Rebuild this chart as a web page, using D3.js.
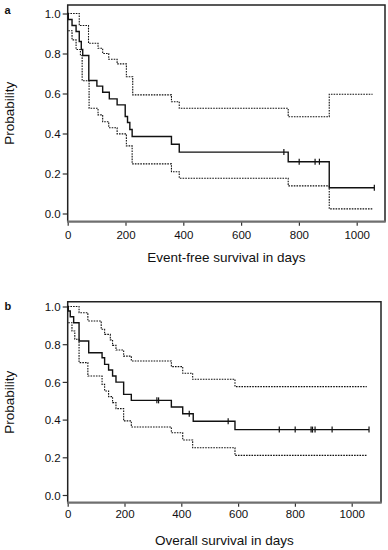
<!DOCTYPE html>
<html>
<head>
<meta charset="utf-8">
<script src="https://cdn.jsdelivr.net/npm/d3@7"></script>
<style>
    body { margin: 0; background: #fff; }
    svg { display: block; }
</style>
</head>
<body>
<svg id="chart" width="388" height="550"></svg>
<script>
    // tick values shared by both panels
    var xTicks = [0, 200, 400, 600, 800, 1000];
    var yTicks = [0, 0.2, 0.4, 0.6, 0.8, 1.0];

    // panel a - event-free survival (time in days, survival probability)
    var efsEstimate = [[0, 1], [2, 0.97], [15, 0.94], [29, 0.91], [40, 0.86], [47, 0.82], [52, 0.79],
        [73, 0.665], [101, 0.637], [121, 0.606], [144, 0.573], [171, 0.543], [199, 0.485],
        [207, 0.455], [215, 0.42], [223, 0.385], [359, 0.346], [386, 0.307], [763, 0.259],
        [905, 0.129], [1061, 0.129]];
    var efsUpper = [[0, 1.0], [40, 0.94], [72, 0.851], [105, 0.826], [121, 0.80], [142, 0.771],
        [171, 0.748], [203, 0.684], [225, 0.593], [359, 0.559], [386, 0.526], [763, 0.484],
        [905, 0.596], [1055, 0.596]];
    var efsLower = [[2, 0.914], [15, 0.868], [29, 0.82], [44, 0.79], [50, 0.664], [74, 0.526],
        [105, 0.493], [121, 0.459], [142, 0.429], [171, 0.398], [203, 0.338], [223, 0.248],
        [359, 0.209], [386, 0.176], [763, 0.138], [905, 0.023], [1055, 0.023]];
    var efsCensored = [748, 801, 856, 871, 1061];

    // panel b - overall survival
    var osEstimate = [[0, 1], [2, 0.976], [9, 0.946], [21, 0.914], [40, 0.817], [74, 0.755],
        [121, 0.728], [130, 0.693], [144, 0.663], [158, 0.631], [170, 0.599], [197, 0.534],
        [224, 0.502], [365, 0.467], [405, 0.431], [442, 0.391], [589, 0.347], [1061, 0.347]];
    var osUpper = [[0, 1.0], [40, 0.967], [71, 0.923], [118, 0.879], [130, 0.852], [150, 0.823],
        [158, 0.794], [170, 0.769], [197, 0.737], [224, 0.711], [365, 0.681], [405, 0.646],
        [440, 0.614], [589, 0.575], [1053, 0.575]];
    var osLower = [[2, 0.914], [15, 0.87], [25, 0.826], [40, 0.702], [71, 0.631], [121, 0.587],
        [130, 0.552], [144, 0.522], [158, 0.49], [170, 0.458], [197, 0.393], [224, 0.361],
        [365, 0.33], [405, 0.292], [440, 0.251], [589, 0.21], [1053, 0.21]];
    var osCensored = [314, 320, 428, 565, 745, 801, 857, 862, 871, 931, 1061];

    var panels = [
        {
            letter: "a", title: "Event-free survival in days",
            left: 67.7, right: 385, top: 5, bottom: 221.7,
            xAt1000: 356.7, yAt0: 213.5, yAt1: 13.5, labelGap: 17, titleY: 262,
            estimate: efsEstimate, upper: efsUpper, lower: efsLower, censored: efsCensored
        },
        {
            letter: "b", title: "Overall survival in days",
            left: 67.7, right: 381, top: 301.7, bottom: 502.7,
            xAt1000: 351.7, yAt0: 495, yAt1: 306.5, labelGap: 15.5, titleY: 545,
            estimate: osEstimate, upper: osUpper, lower: osLower, censored: osCensored
        }
    ];

    var svg = d3.select("#chart");
    var font = "'Liberation Sans', Arial, sans-serif";

    // value of the step function at time t
    function stepValue(series, t) {
        var v = series[0][1];
        series.forEach(function(d) { if (d[0] <= t) v = d[1]; });
        return v;
    }

    panels.forEach(function(p) {
        var x = d3.scaleLinear().domain([0, 1000]).range([p.left, p.xAt1000]);
        var y = d3.scaleLinear().domain([0, 1]).range([p.yAt0, p.yAt1]);

        var g = svg.append("g");

        /* y axis */
        var yAxis = g.append("g")
            .attr("transform", "translate(" + p.left + ",0)")
            .call(d3.axisLeft(y).tickValues(yTicks).tickSize(5).tickPadding(2)
                .tickFormat(d3.format(".1f")));
        yAxis.select(".domain").remove();
        yAxis.selectAll("line").attr("stroke", "#333").attr("stroke-width", 1.2);
        yAxis.selectAll("text").attr("font-family", font).attr("font-size", "11.5px")
            .attr("fill", "#111").attr("dy", "0.36em");

        /* x axis */
        var xAxis = g.append("g")
            .attr("transform", "translate(0," + p.bottom + ")")
            .call(d3.axisBottom(x).tickValues(xTicks).tickSize(4).tickPadding(2)
                .tickFormat(d3.format("d")));
        xAxis.select(".domain").remove();
        xAxis.selectAll("line").attr("stroke", "#333").attr("stroke-width", 1.2);
        xAxis.selectAll("text").attr("font-family", font).attr("font-size", "11.5px")
            .attr("fill", "#111").attr("dy", null).attr("y", p.labelGap);

        // frame: left, top, right
        g.append("path")
            .attr("d", "M" + p.left + "," + p.bottom + "V" + p.top + "H" + p.right + "V" + p.bottom)
            .attr("fill", "none")
            .attr("stroke", "#222")
            .attr("stroke-width", 1.5);

        // bottom axis line (grey, heavier)
        g.append("line")
            .attr("x1", p.left - 0.7).attr("x2", p.right + 0.7)
            .attr("y1", p.bottom).attr("y2", p.bottom)
            .attr("stroke", "#6f6f6f")
            .attr("stroke-width", 2.2);

        var line = d3.line()
            .curve(d3.curveStepAfter)
            .x(function(d) { return x(d[0]); })
            .y(function(d) { return y(d[1]); });

        [p.upper, p.lower].forEach(function(s) {
            g.append("path")
                .datum(s)
                .attr("d", line)
                .attr("fill", "none")
                .attr("stroke", "#111")
                .attr("stroke-width", 1.1)
                .attr("stroke-dasharray", "1.6,1.1");
        });

        g.append("path")
            .datum(p.estimate)
            .attr("d", line)
            .attr("fill", "none")
            .attr("stroke", "#111")
            .attr("stroke-width", 1.4);

        // censoring marks
        g.selectAll(".cens")
            .data(p.censored)
            .enter().append("line")
            .attr("class", "cens")
            .attr("x1", function(d) { return x(d); })
            .attr("x2", function(d) { return x(d); })
            .attr("y1", function(d) { return y(stepValue(p.estimate, d)) - 3; })
            .attr("y2", function(d) { return y(stepValue(p.estimate, d)) + 3; })
            .attr("stroke", "#111")
            .attr("stroke-width", 1.2);

        /* titles */
        g.append("text")
            .attr("x", (p.left + p.right) / 2)
            .attr("y", p.titleY)
            .attr("text-anchor", "middle")
            .attr("font-family", font)
            .attr("font-size", "13.5px")
            .attr("fill", "#111")
            .text(p.title);

        g.append("text")
            .attr("transform", "translate(14," + ((p.top + p.bottom) / 2) + ") rotate(-90)")
            .attr("text-anchor", "middle")
            .attr("font-family", font)
            .attr("font-size", "13.5px")
            .attr("fill", "#111")
            .text("Probability");

        g.append("text")
            .attr("x", 4.5)
            .attr("y", p.top + 8.5)
            .attr("font-family", font)
            .attr("font-size", "11px")
            .attr("font-weight", "bold")
            .attr("fill", "#111")
            .text(p.letter);
    });
</script>
</body>
</html>
